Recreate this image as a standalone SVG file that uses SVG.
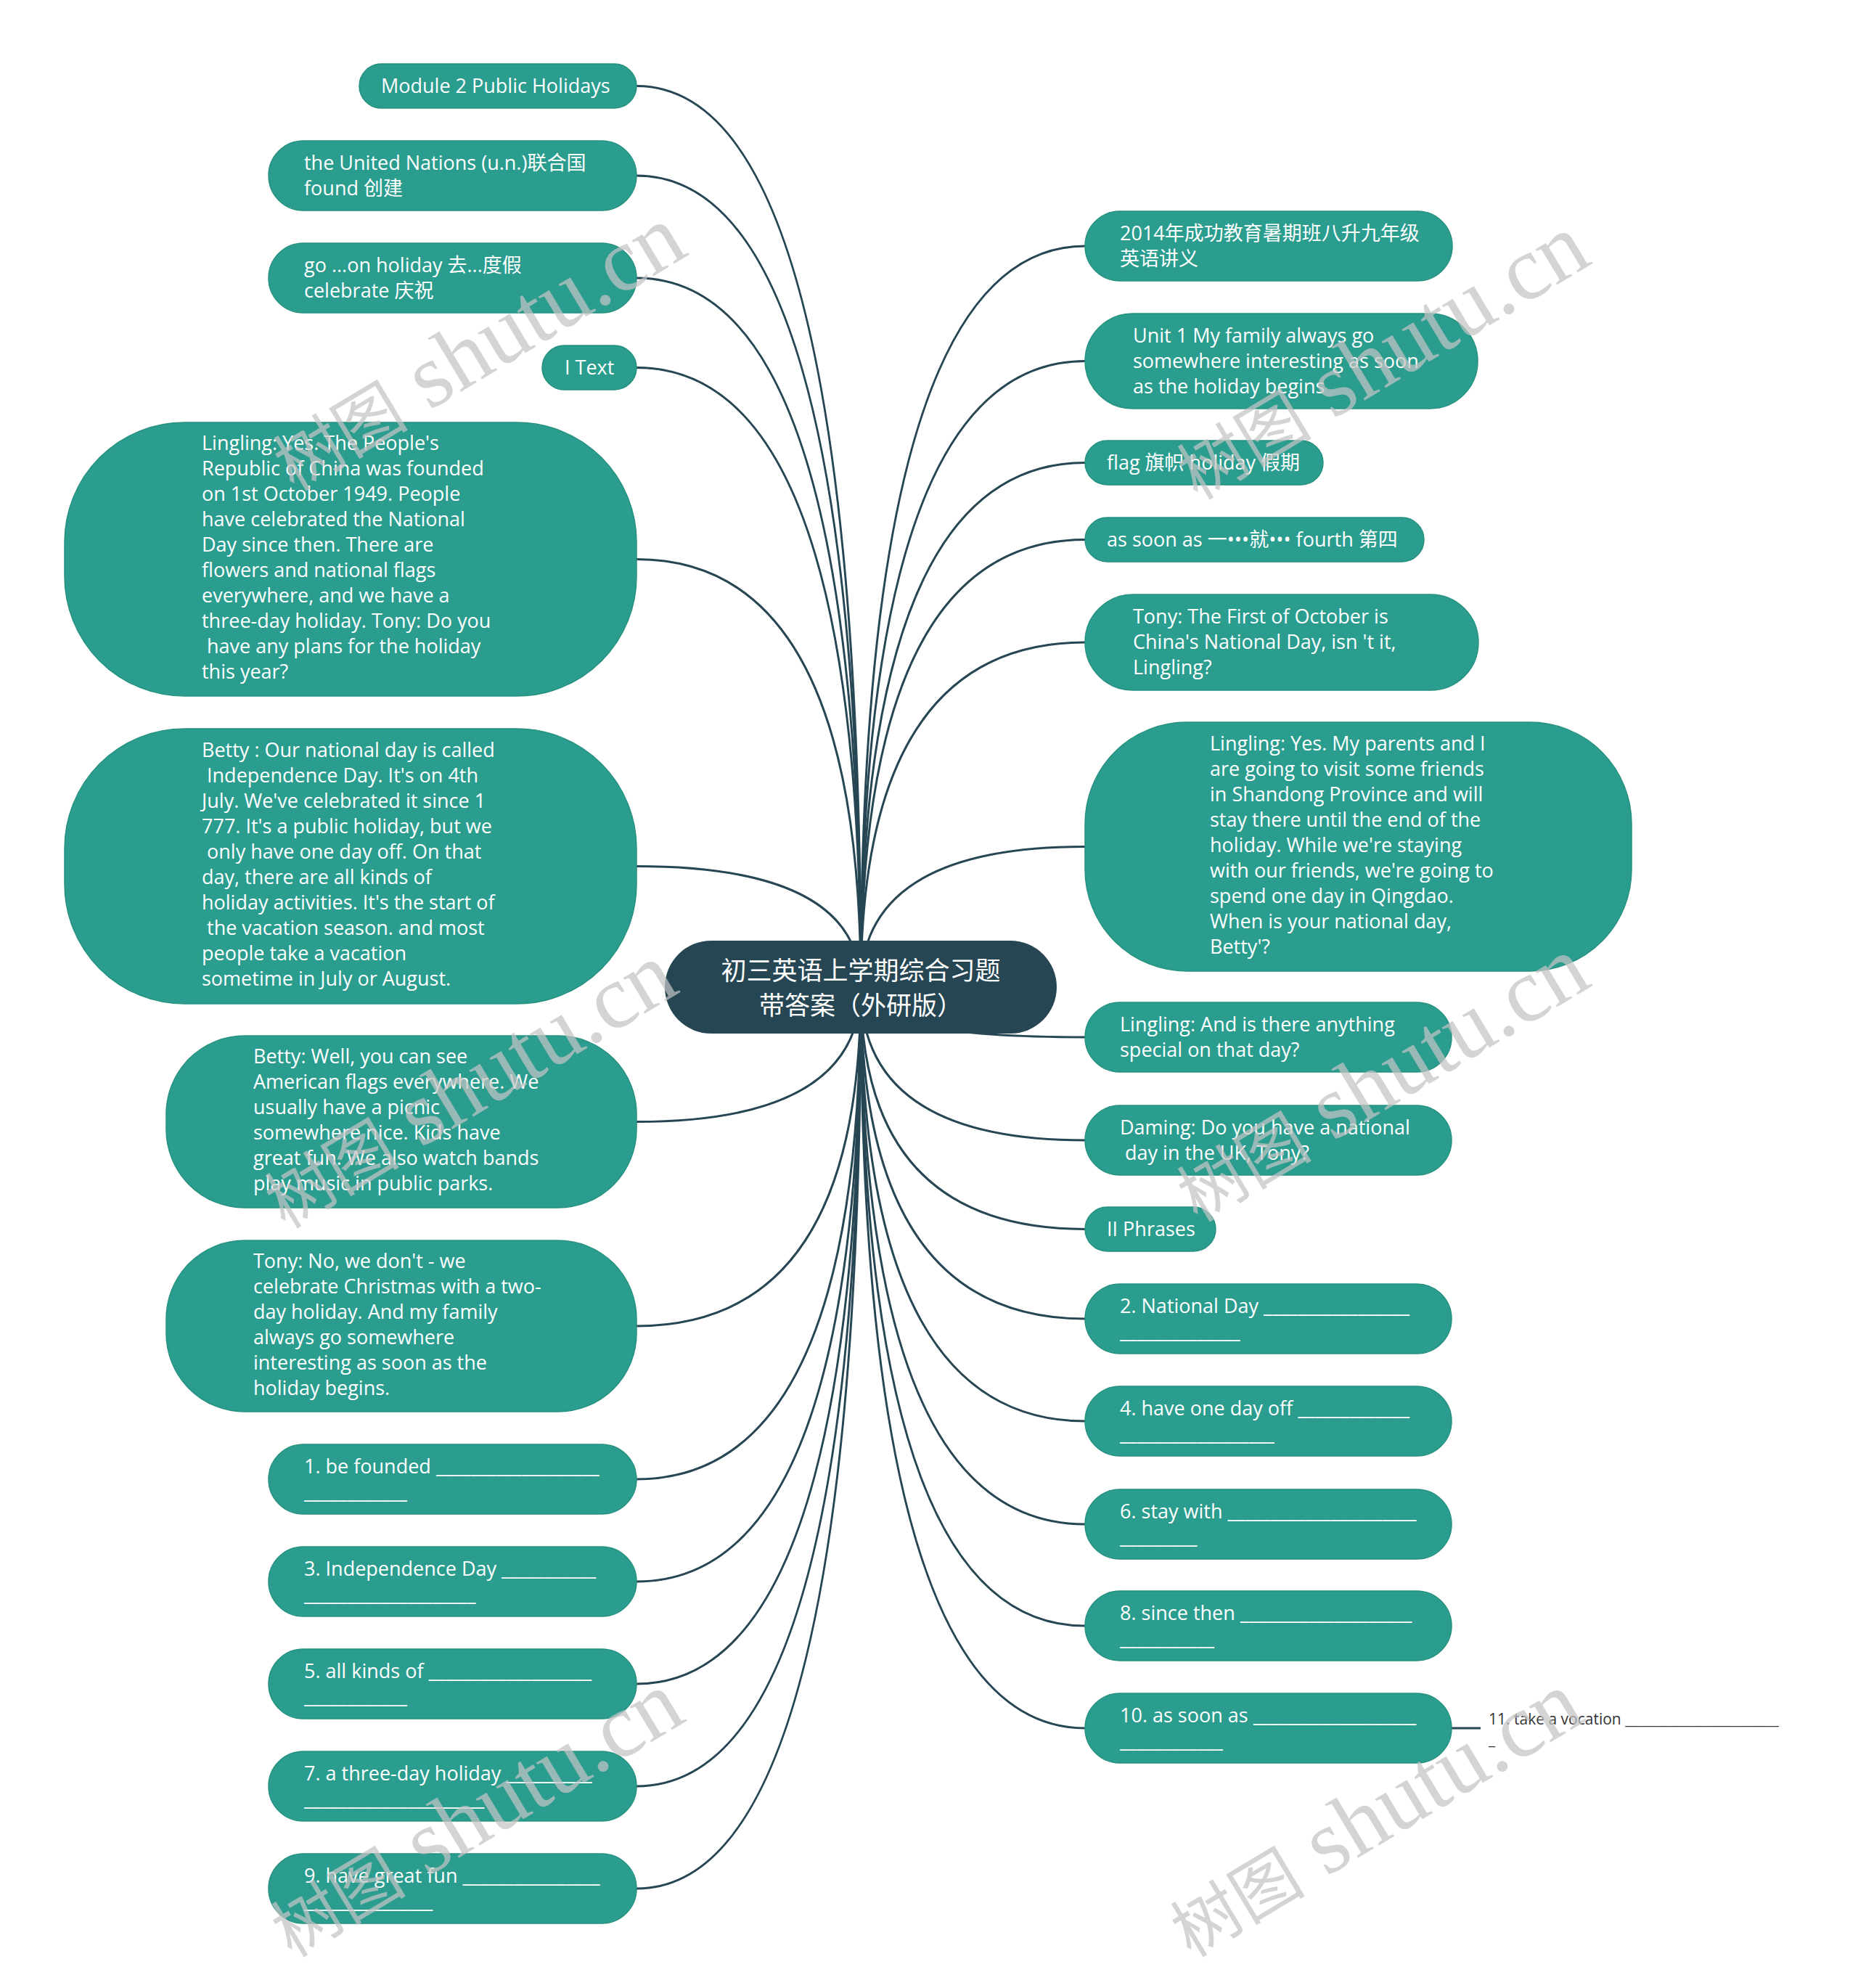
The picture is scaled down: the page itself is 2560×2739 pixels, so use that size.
<svg xmlns="http://www.w3.org/2000/svg" width="2560" height="2739" viewBox="0 0 2560 2739">
<style>
.n{fill:#2a9d8f;stroke:#26917f;stroke-width:1.5}
.root{fill:#264653}
.t{font-family:"Open Sans","Noto Sans CJK SC",sans-serif;font-size:27px;fill:#ffffff}
.c{font-family:"Open Sans","Noto Sans CJK SC",sans-serif;font-size:35px;fill:#ffffff;text-anchor:middle}
.s{font-family:"Open Sans","Noto Sans CJK SC",sans-serif;font-size:21px;fill:#333333}
.e{fill:none;stroke:#264653;stroke-width:3}
.w{font-family:"Liberation Serif","Noto Sans CJK SC",serif;font-size:125px;fill:#c4c4c4;fill-opacity:0.72}
.wc{font-size:93px}
</style>
<rect width="2560" height="2739" fill="#ffffff"/>
<g id="connectors">
<path class="e" d="M1186,1360 Q1186,118.5 877,118.5"/>
<path class="e" d="M1186,1360 Q1186,242 877,242"/>
<path class="e" d="M1186,1360 Q1186,383 877,383"/>
<path class="e" d="M1186,1360 Q1186,506.5 877,506.5"/>
<path class="e" d="M1186,1360 Q1186,770.5 877,770.5"/>
<path class="e" d="M1186,1360 Q1186,1193.5 877,1193.5"/>
<path class="e" d="M1186,1360 Q1186,1545.5 877,1545.5"/>
<path class="e" d="M1186,1360 Q1186,1827 877,1827"/>
<path class="e" d="M1186,1360 Q1186,2038 877,2038"/>
<path class="e" d="M1186,1360 Q1186,2179 877,2179"/>
<path class="e" d="M1186,1360 Q1186,2320 877,2320"/>
<path class="e" d="M1186,1360 Q1186,2461 877,2461"/>
<path class="e" d="M1186,1360 Q1186,2602 877,2602"/>
<path class="e" d="M1186,1360 Q1186,339 1495,339"/>
<path class="e" d="M1186,1360 Q1186,497.5 1495,497.5"/>
<path class="e" d="M1186,1360 Q1186,637.5 1495,637.5"/>
<path class="e" d="M1186,1360 Q1186,743.5 1495,743.5"/>
<path class="e" d="M1186,1360 Q1186,885 1495,885"/>
<path class="e" d="M1186,1360 Q1186,1166.5 1495,1166.5"/>
<path class="e" d="M1186,1360 Q1186,1429 1495,1429"/>
<path class="e" d="M1186,1360 Q1186,1571 1495,1571"/>
<path class="e" d="M1186,1360 Q1186,1693.5 1495,1693.5"/>
<path class="e" d="M1186,1360 Q1186,1817 1495,1817"/>
<path class="e" d="M1186,1360 Q1186,1958 1495,1958"/>
<path class="e" d="M1186,1360 Q1186,2100 1495,2100"/>
<path class="e" d="M1186,1360 Q1186,2240 1495,2240"/>
<path class="e" d="M1186,1360 Q1186,2381 1495,2381"/>
<path class="e" d="M2000,2381 L2040,2381"/>
</g>
<g id="root">
<rect class="root" x="916" y="1296" width="540" height="128" rx="64"/>
<text class="c" x="1186" y="1350">初三英语上学期综合习题</text>
<text class="c" x="1186" y="1398">带答案（外研版）</text>
</g>
<g id="L1"><rect class="n" x="495" y="88" width="382" height="61" rx="30.5"/><text class="t" x="525" y="128">Module 2 Public Holidays</text></g>
<g id="L2"><rect class="n" x="370" y="194" width="507" height="96" rx="48"/><text class="t" x="419" y="233.5">the United Nations (u.n.)联合国</text><text class="t" x="419" y="268.5">found 创建</text></g>
<g id="L3"><rect class="n" x="370" y="335" width="507" height="96" rx="48"/><text class="t" x="419" y="374.5">go ...on holiday 去...度假</text><text class="t" x="419" y="409.5">celebrate 庆祝</text></g>
<g id="L4"><rect class="n" x="747" y="476" width="130" height="61" rx="30.5"/><text class="t" x="778" y="515.5">I Text</text></g>
<g id="L5"><rect class="n" x="89" y="582" width="788" height="377" rx="165"/>
<text class="t" x="278" y="620">Lingling: Yes. The People's</text>
<text class="t" x="278" y="655">Republic of China was founded</text>
<text class="t" x="278" y="690">on 1st October 1949. People</text>
<text class="t" x="278" y="725">have celebrated the National</text>
<text class="t" x="278" y="760">Day since then. There are</text>
<text class="t" x="278" y="795">flowers and national flags</text>
<text class="t" x="278" y="830">everywhere, and we have a</text>
<text class="t" x="278" y="865">three-day holiday. Tony: Do you</text>
<text class="t" x="278" y="900" xml:space="preserve"> have any plans for the holiday</text>
<text class="t" x="278" y="935">this year?</text></g>
<g id="L6"><rect class="n" x="89" y="1004" width="788" height="379" rx="165"/>
<text class="t" x="278" y="1043">Betty : Our national day is called</text>
<text class="t" x="278" y="1078" xml:space="preserve"> Independence Day. It's on 4th</text>
<text class="t" x="278" y="1113">July. We've celebrated it since 1</text>
<text class="t" x="278" y="1148">777. It's a public holiday, but we</text>
<text class="t" x="278" y="1183" xml:space="preserve"> only have one day off. On that</text>
<text class="t" x="278" y="1218">day, there are all kinds of</text>
<text class="t" x="278" y="1253">holiday activities. It's the start of</text>
<text class="t" x="278" y="1288" xml:space="preserve"> the vacation season. and most</text>
<text class="t" x="278" y="1323">people take a vacation</text>
<text class="t" x="278" y="1358">sometime in July or August.</text></g>
<g id="L7"><rect class="n" x="229" y="1427" width="648" height="237" rx="108"/>
<text class="t" x="349" y="1465">Betty: Well, you can see</text>
<text class="t" x="349" y="1500">American flags everywhere. We</text>
<text class="t" x="349" y="1535">usually have a picnic</text>
<text class="t" x="349" y="1570">somewhere nice. Kids have</text>
<text class="t" x="349" y="1605">great fun. We also watch bands</text>
<text class="t" x="349" y="1640">play music in public parks.</text></g>
<g id="L8"><rect class="n" x="229" y="1709" width="648" height="236" rx="108"/>
<text class="t" x="349" y="1747">Tony: No, we don't - we</text>
<text class="t" x="349" y="1782">celebrate Christmas with a two-</text>
<text class="t" x="349" y="1817">day holiday. And my family</text>
<text class="t" x="349" y="1852">always go somewhere</text>
<text class="t" x="349" y="1887">interesting as soon as the</text>
<text class="t" x="349" y="1922">holiday begins.</text></g>
<g id="L9"><rect class="n" x="370" y="1990" width="507" height="96" rx="48"/><text class="t" x="419" y="2029.5">1. be founded ___________________</text><text class="t" x="419" y="2064.5">____________</text></g>
<g id="L10"><rect class="n" x="370" y="2131" width="507" height="96" rx="48"/><text class="t" x="419" y="2170.5">3. Independence Day ___________</text><text class="t" x="419" y="2205.5">____________________</text></g>
<g id="L11"><rect class="n" x="370" y="2272" width="507" height="96" rx="48"/><text class="t" x="419" y="2311.5">5. all kinds of ___________________</text><text class="t" x="419" y="2346.5">____________</text></g>
<g id="L12"><rect class="n" x="370" y="2413" width="507" height="96" rx="48"/><text class="t" x="419" y="2452.5">7. a three-day holiday __________</text><text class="t" x="419" y="2487.5">_____________________</text></g>
<g id="L13"><rect class="n" x="370" y="2554" width="507" height="96" rx="48"/><text class="t" x="419" y="2593.5">9. have great fun ________________</text><text class="t" x="419" y="2628.5">_______________</text></g>
<g id="R1"><rect class="n" x="1495" y="291" width="506" height="96" rx="48"/><text class="t" x="1543" y="330.5">2014年成功教育暑期班八升九年级</text><text class="t" x="1543" y="365.5">英语讲义</text></g>
<g id="R2"><rect class="n" x="1495" y="432" width="541" height="131" rx="65.5"/><text class="t" x="1561" y="471.5">Unit 1 My family always go</text><text class="t" x="1561" y="506.5">somewhere interesting as soon</text><text class="t" x="1561" y="541.5">as the holiday begins</text></g>
<g id="R3"><rect class="n" x="1495" y="607" width="328" height="61" rx="30.5"/><text class="t" x="1525" y="646.5">flag 旗帜 holiday 假期</text></g>
<g id="R4"><rect class="n" x="1495" y="713" width="467" height="61" rx="30.5"/><text class="t" x="1525" y="752.5">as soon as 一•••就••• fourth 第四</text></g>
<g id="R5"><rect class="n" x="1495" y="819" width="542" height="132" rx="66"/><text class="t" x="1561" y="859">Tony: The First of October is</text><text class="t" x="1561" y="894">China's National Day, isn 't it,</text><text class="t" x="1561" y="929">Lingling?</text></g>
<g id="R6"><rect class="n" x="1495" y="995" width="753" height="343" rx="140"/>
<text class="t" x="1667" y="1033.5">Lingling: Yes. My parents and I</text>
<text class="t" x="1667" y="1068.5">are going to visit some friends</text>
<text class="t" x="1667" y="1103.5">in Shandong Province and will</text>
<text class="t" x="1667" y="1138.5">stay there until the end of the</text>
<text class="t" x="1667" y="1173.5">holiday. While we're staying</text>
<text class="t" x="1667" y="1208.5">with our friends, we're going to</text>
<text class="t" x="1667" y="1243.5">spend one day in Qingdao.</text>
<text class="t" x="1667" y="1278.5">When is your national day,</text>
<text class="t" x="1667" y="1313.5">Betty'?</text></g>
<g id="R7"><rect class="n" x="1495" y="1381" width="505" height="96" rx="48"/><text class="t" x="1543" y="1420.5">Lingling: And is there anything</text><text class="t" x="1543" y="1455.5">special on that day?</text></g>
<g id="R8"><rect class="n" x="1495" y="1523" width="505" height="96" rx="48"/><text class="t" x="1543" y="1562.5">Daming: Do you have a national</text><text class="t" x="1543" y="1597.5" xml:space="preserve"> day in the UK, Tony?</text></g>
<g id="R9"><rect class="n" x="1495" y="1663" width="180" height="61" rx="30.5"/><text class="t" x="1525" y="1702.5">II Phrases</text></g>
<g id="R10"><rect class="n" x="1495" y="1769" width="505" height="96" rx="48"/><text class="t" x="1543" y="1808.5">2. National Day _________________</text><text class="t" x="1543" y="1843.5">______________</text></g>
<g id="R11"><rect class="n" x="1495" y="1910" width="505" height="96" rx="48"/><text class="t" x="1543" y="1949.5">4. have one day off _____________</text><text class="t" x="1543" y="1984.5">__________________</text></g>
<g id="R12"><rect class="n" x="1495" y="2052" width="505" height="96" rx="48"/><text class="t" x="1543" y="2091.5">6. stay with ______________________</text><text class="t" x="1543" y="2126.5">_________</text></g>
<g id="R13"><rect class="n" x="1495" y="2192" width="505" height="96" rx="48"/><text class="t" x="1543" y="2231.5">8. since then ____________________</text><text class="t" x="1543" y="2266.5">___________</text></g>
<g id="R14"><rect class="n" x="1495" y="2333" width="505" height="96" rx="48"/><text class="t" x="1543" y="2372.5">10. as soon as ___________________</text><text class="t" x="1543" y="2407.5">____________</text></g>
<g id="R14-1"><text class="s" x="2051" y="2376">11. take a vocation _______________________</text><text class="s" x="2051" y="2404">_</text></g>
<g id="watermark">
<text class="w" transform="translate(405,678) rotate(-31)"><tspan class="wc">树图</tspan> shutu.cn</text>
<text class="w" transform="translate(393,1694) rotate(-31)"><tspan class="wc">树图</tspan> shutu.cn</text>
<text class="w" transform="translate(402,2698) rotate(-31)"><tspan class="wc">树图</tspan> shutu.cn</text>
<text class="w" transform="translate(1650,690) rotate(-31)"><tspan class="wc">树图</tspan> shutu.cn</text>
<text class="w" transform="translate(1650,1685) rotate(-31)"><tspan class="wc">树图</tspan> shutu.cn</text>
<text class="w" transform="translate(1641,2698) rotate(-31)"><tspan class="wc">树图</tspan> shutu.cn</text>
</g>
</svg>
